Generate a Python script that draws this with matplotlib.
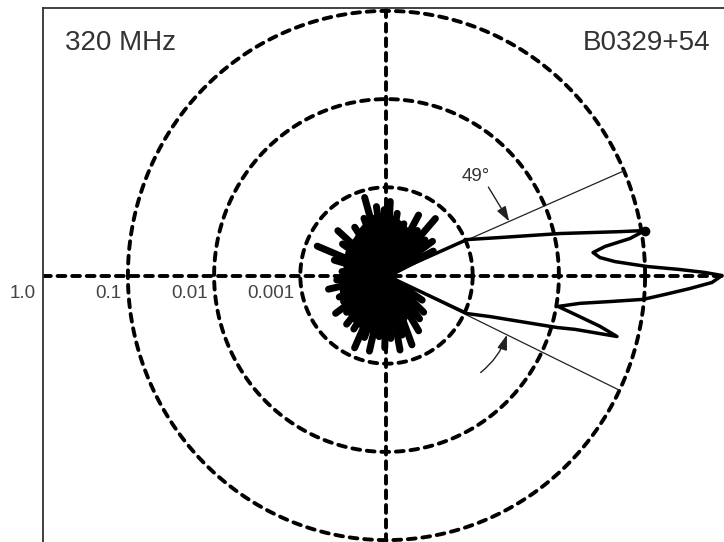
import numpy as np
import matplotlib
matplotlib.use("Agg")
import matplotlib.pyplot as plt

plt.rcParams['font.family'] = ['Liberation Sans', 'DejaVu Sans']

# ---------------- data ----------------
freq_label = "320 MHz"
pulsar_label = "B0329+54"
floor_level = 1e-4                      # centre of the plot
ring_levels = [0.001, 0.01, 0.1]        # dashed circles
tick_levels = [1.0, 0.1, 0.01, 0.001]
tick_labels = ["1.0", "0.1", "0.01", "0.001"]
beam_width_label = "49°"
beam_edge_angles = [23.3, -25.7]        # degrees

# beam pattern outline (angle in deg, relative intensity)
lobe_angle = [0.0, 23.6, 18.1, 13.3, 10.4, 9.65, 8.45, 7.4, 6.2, 4.7, 3.4,
              1.93, 1.14, 0.53, 0.0, -1.2, -2.4, -3.8, -5.2, -6.5, -8.0,
              -10.0, -11.4, -13.1, -14.5, -14.9, -15.6, -16.6, -18.6,
              -21.2, -24.8, 0.0]
lobe_value = [1e-4, 0.00104, 0.00243, 0.0117, 0.0569, 0.110, 0.0718, 0.0360,
              0.0257, 0.0305, 0.0453, 0.106, 0.255, 0.495, 0.780, 0.598,
              0.334, 0.173, 0.0973, 0.0407, 0.0185, 0.0105, 0.0170, 0.0349,
              0.0578, 0.0366, 0.0187, 0.0116, 0.00431, 0.00194, 0.00107, 1e-4]
sidelobe_peak_angle = [9.65]
sidelobe_peak_value = [0.110]

# background noise: dense core
core_angle = [24, 30, 40, 50, 60, 70, 80, 90, 100, 110, 120, 130, 140, 150,
              160, 170, 180, 190, 200, 210, 220, 230, 240, 250, 260, 270,
              280, 290, 300, 310, 320, 330, 336]
core_value = [1e-4, 2.6e-4, 2.9e-4, 3.2e-4, 3.6e-4, 4.0e-4, 4.5e-4, 4.8e-4,
              5.0e-4, 4.5e-4, 4.0e-4, 3.6e-4, 3.5e-4, 3.4e-4, 3.2e-4,
              3.1e-4, 3.1e-4, 3.5e-4, 3.6e-4, 4.0e-4, 4.0e-4, 4.3e-4,
              4.5e-4, 4.6e-4, 4.6e-4, 4.4e-4, 4.1e-4, 3.7e-4, 3.3e-4,
              2.9e-4, 2.6e-4, 2.3e-4, 1e-4]
# background noise: spikes
spike_angle = [27, 36, 42, 48.7, 55, 61.5, 71, 80, 87, 92, 98.5, 106, 112,
               124, 138, 145, 157.5, 164, 175, 185, 193, 204, 216, 222, 230,
               238, 245.7, 250, 257, 263, 268.6, 274, 280.5, 285, 290.6,
               300.7, 308, 316, 326]
spike_value = [4.07e-4, 4.57e-4, 4.0e-4, 7.24e-4, 4.2e-4, 6.03e-4, 4.17e-4,
               5.2e-4, 6.92e-4, 5.6e-4, 6.17e-4, 8.32e-4, 5.0e-4, 4.57e-4,
               5.75e-4, 4.2e-4, 7.41e-4, 4.27e-4, 3.3e-4, 3.8e-4, 4.9e-4,
               3.98e-4, 5.37e-4, 4.2e-4, 5.25e-4, 5.2e-4, 7.94e-4, 5.6e-4,
               7.59e-4, 5.0e-4, 6.61e-4, 5.2e-4, 7.24e-4, 5.0e-4, 6.92e-4,
               5.37e-4, 4.2e-4, 3.98e-4, 3.16e-4]


def rad(v):
    return np.log10(np.asarray(v, dtype=float) / floor_level)


def xy(angle_deg, value):
    r = rad(value)
    a = np.deg2rad(np.asarray(angle_deg, dtype=float))
    return r * np.cos(a), r * np.sin(a)


# ---------------- figure ----------------
W, H = 724, 542
fig = plt.figure(figsize=(W / 100, H / 100), dpi=100)
fig.patch.set_facecolor('white')
left_px, top_px = 43, 8
ax = fig.add_axes([left_px / W, 0, (W - left_px) / W, (H - top_px) / H])

cx, cy = 386.5, 275.5
sx, sy = 86.2, 88.2
x0 = (left_px - cx) / sx
x1 = (W - cx) / sx
y1 = (cy - top_px) / sy
y0 = (cy - H) / sy
ax.set_xlim(x0, x1)
ax.set_ylim(y0, y1)
ax.set_xticks([])
ax.set_yticks([])
for s in ['right', 'bottom']:
    ax.spines[s].set_visible(False)
for s in ['left', 'top']:
    ax.spines[s].set_color('#333333')
    ax.spines[s].set_linewidth(1.3)

dash_lw = 2.8
dash_style = (0, (2.0, 1.75))
t = np.linspace(0, 2 * np.pi, 721)
for lev in ring_levels:
    r = rad(lev)
    ax.plot(r * np.cos(t), r * np.sin(t), color='black', lw=dash_lw,
            linestyle=dash_style, dash_capstyle='round', zorder=2)
ax.plot([x0, x1], [0, 0], color='black', lw=dash_lw, linestyle=dash_style,
        dash_capstyle='round', zorder=2)
ax.plot([0, 0], [y0, y1], color='black', lw=dash_lw, linestyle=dash_style,
        dash_capstyle='round', zorder=2)

# beam edge thin lines
r_edge = rad(ring_levels[-1])
for a in beam_edge_angles:
    ar = np.deg2rad(a)
    ax.plot([0, r_edge * np.cos(ar)], [0, r_edge * np.sin(ar)],
            color='#222222', lw=0.9, zorder=3)

# noise core and spikes
cxs, cys = xy(core_angle, core_value)
ax.fill(np.r_[0, cxs], np.r_[0, cys], color='black', lw=2.0,
        joinstyle='round', zorder=4)
for a, v in zip(spike_angle, spike_value):
    px, py = xy([a], [v])
    ax.plot([0, px[0]], [0, py[0]], color='black', lw=5.0,
            solid_capstyle='round', zorder=4)

# main beam outline
lx, ly = xy(lobe_angle, lobe_value)
ax.plot(lx, ly, color='black', lw=2.5, solid_joinstyle='round', zorder=5)
spx, spy = xy(sidelobe_peak_angle, sidelobe_peak_value)
ax.plot(spx, spy, 'o', color='black', ms=6, zorder=5)

# arrows marking beam width
arrow_r = 1.55
for a, off, rad_c in [(beam_edge_angles[0], 17.0, 0.0),
                      (beam_edge_angles[1], -19.5, 0.15)]:
    tip = (arrow_r * np.cos(np.deg2rad(a)), arrow_r * np.sin(np.deg2rad(a)))
    st = (arrow_r * np.cos(np.deg2rad(a + off)),
          arrow_r * np.sin(np.deg2rad(a + off)))
    ax.annotate("", xy=tip, xytext=st,
                arrowprops=dict(arrowstyle="-|>,head_length=0.9,head_width=0.3",
                                color='#222222', lw=1.0, shrinkA=0, shrinkB=0,
                                connectionstyle=f"arc3,rad={rad_c}"),
                zorder=6)
ta = np.deg2rad(beam_edge_angles[0] + 24.0)
ax.text(1.53 * np.cos(ta), 1.53 * np.sin(ta), beam_width_label,
        fontsize=13.5, color='#333333', ha='center', va='center', zorder=6)

# radial tick labels along negative x axis
for lev, lab in zip(tick_levels, tick_labels):
    ax.text(-rad(lev) - 0.07, -0.2, lab, fontsize=13.5, color='#444444',
            ha='right', va='center', clip_on=False, zorder=6)

ax.text(0.032, 0.935, freq_label, transform=ax.transAxes, fontsize=20,
        color='#333333', ha='left', va='center')
ax.text(0.98, 0.935, pulsar_label, transform=ax.transAxes, fontsize=20,
        color='#333333', ha='right', va='center')

fig.savefig("out.png", dpi=100, facecolor='white')
